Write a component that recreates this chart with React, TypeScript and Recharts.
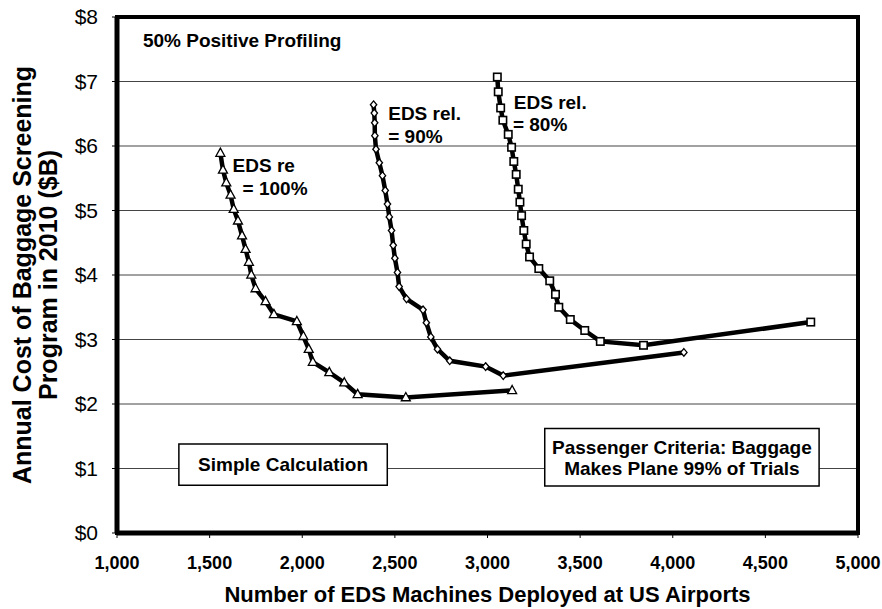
import React from 'react';
import { LineChart, Line, XAxis, YAxis, CartesianGrid, ReferenceArea, ReferenceDot } from 'recharts';

const FONT = '"Liberation Sans", Arial, Helvetica, sans-serif';

const xTicks = [1000, 1500, 2000, 2500, 3000, 3500, 4000, 4500, 5000];
const yTicks = [0, 1, 2, 3, 4, 5, 6, 7, 8];

const eds100X = [1558, 1572, 1590, 1613, 1630, 1653, 1675, 1694, 1712, 1725, 1748, 1802, 1847, 1971, 2006, 2035, 2057, 2146, 2227, 2299, 2559, 3133];
const eds100Y = [5.89, 5.63, 5.43, 5.24, 5.02, 4.84, 4.61, 4.40, 4.20, 4.00, 3.79, 3.59, 3.39, 3.28, 3.05, 2.85, 2.65, 2.49, 2.33, 2.15, 2.10, 2.21];

const eds90X = [2385, 2389, 2391, 2392, 2398, 2416, 2433, 2448, 2460, 2470, 2482, 2491, 2500, 2514, 2523, 2563, 2652, 2670, 2694, 2730, 2796, 2990, 3085, 4060];
const eds90Y = [6.64, 6.51, 6.36, 6.16, 5.95, 5.74, 5.54, 5.31, 5.10, 4.90, 4.69, 4.46, 4.26, 4.04, 3.82, 3.63, 3.46, 3.26, 3.04, 2.85, 2.67, 2.58, 2.44, 2.80];

const eds80X = [3053, 3058, 3071, 3083, 3112, 3130, 3142, 3155, 3166, 3175, 3184, 3196, 3209, 3227, 3277, 3336, 3367, 3385, 3447, 3525, 3609, 3842, 4745];
const eds80Y = [7.07, 6.84, 6.59, 6.40, 6.18, 5.98, 5.76, 5.56, 5.33, 5.13, 4.92, 4.69, 4.48, 4.28, 4.10, 3.91, 3.70, 3.50, 3.31, 3.14, 2.97, 2.91, 3.27];

const toPoints = (xs: number[], ys: number[]) => xs.map((x, i) => ({ x, y: ys[i] }));
const eds100 = toPoints(eds100X, eds100Y);
const eds90 = toPoints(eds90X, eds90Y);
const eds80 = toPoints(eds80X, eds80Y);

const triangleDot = (p: any) => {
  const { cx, cy, index } = p;
  if (cx == null || cy == null) return <g key={`t${index}`} />;
  return (
    <path key={`t${index}`} d={`M${cx},${cy - 5} L${cx + 4.5},${cy + 3.2} L${cx - 4.5},${cy + 3.2} Z`} fill="#fff" stroke="#000" strokeWidth={1.3} />
  );
};
const diamondDot = (p: any) => {
  const { cx, cy, index } = p;
  if (cx == null || cy == null) return <g key={`d${index}`} />;
  return (
    <path key={`d${index}`} d={`M${cx},${cy - 3.8} L${cx + 3.2},${cy} L${cx},${cy + 3.8} L${cx - 3.2},${cy} Z`} fill="#fff" stroke="#000" strokeWidth={1.3} />
  );
};
const squareDot = (p: any) => {
  const { cx, cy, index } = p;
  if (cx == null || cy == null) return <g key={`s${index}`} />;
  return <rect key={`s${index}`} x={cx - 3.7} y={cy - 3.7} width={7.4} height={7.4} fill="#fff" stroke="#000" strokeWidth={1.6} />;
};

const freeText = (text: string, size = 19) => (props: any) => {
  const vb = props.viewBox || {};
  return (
    <text x={vb.x} y={vb.y} fontSize={size} fontWeight="bold" fontFamily={FONT} fill="#000" textAnchor="start">
      {text}
    </text>
  );
};

const boxText = (lines: string[], size = 19, lineH = 21) => (props: any) => {
  const vb = props.viewBox || {};
  const cx = vb.x + vb.width / 2;
  const cy = vb.y + vb.height / 2;
  const start = cy - ((lines.length - 1) * lineH) / 2 + size * 0.36;
  return (
    <g>
      {lines.map((l, i) => (
        <text key={i} x={cx} y={start + i * lineH} fontSize={size} fontWeight="bold" fontFamily={FONT} fill="#000" textAnchor="middle">
          {l}
        </text>
      ))}
    </g>
  );
};

const yTitle = (props: any) => {
  const vb = props.viewBox || {};
  const cy = vb.y + vb.height / 2;
  const x1 = 31;
  const x2 = 57;
  return (
    <g>
      <text x={x1} y={cy} transform={`rotate(-90, ${x1}, ${cy})`} textAnchor="middle" fontSize={25} fontWeight="bold" fontFamily={FONT} fill="#000">
        Annual Cost of Baggage Screening
      </text>
      <text x={x2} y={cy} transform={`rotate(-90, ${x2}, ${cy})`} textAnchor="middle" fontSize={25} fontWeight="bold" fontFamily={FONT} fill="#000">
        Program in 2010 ($B)
      </text>
    </g>
  );
};

const xTitle = (props: any) => {
  const vb = props.viewBox || {};
  const cx = vb.x + vb.width / 2;
  return (
    <text x={cx} y={602} textAnchor="middle" fontSize={22} fontWeight="bold" fontFamily={FONT} fill="#000">
      Number of EDS Machines Deployed at US Airports
    </text>
  );
};

export default function App() {
  return (
    <div style={{ position: 'absolute', left: 0, top: 0, width: 882, height: 609, background: '#fff' }}>
      <LineChart width={882} height={609} margin={{ top: 17, right: 24, left: 0, bottom: 0 }}>
        <CartesianGrid vertical={false} stroke="#444" strokeWidth={1} />
        <XAxis
          type="number"
          dataKey="x"
          domain={[1000, 5000]}
          ticks={xTicks}
          allowDataOverflow
          height={76}
          tickSize={5}
          tickMargin={18}
          tickFormatter={(v: number) => v.toLocaleString('en-US')}
          tick={{ fontSize: 18, fontWeight: 'bold', fontFamily: FONT, fill: '#000' }}
          axisLine={{ stroke: '#000', strokeWidth: 5 }}
          tickLine={{ stroke: '#000', strokeWidth: 1 }}
          label={xTitle}
        />
        <YAxis
          type="number"
          dataKey="y"
          domain={[0, 8]}
          ticks={yTicks}
          allowDataOverflow
          width={117}
          tickSize={5}
          tickMargin={14}
          tickFormatter={(v: number) => `$${v}`}
          tick={{ fontSize: 21, fontFamily: FONT, fill: '#000' }}
          axisLine={{ stroke: '#000', strokeWidth: 5 }}
          tickLine={{ stroke: '#000', strokeWidth: 1 }}
          label={yTitle}
        />
        <ReferenceArea x1={1334} x2={2459} y1={0.74} y2={1.38} fill="#fff" fillOpacity={1} stroke="#000" strokeWidth={1.5} label={boxText(['Simple Calculation'])} />
        <ReferenceArea x1={3309} x2={4790} y1={0.73} y2={1.62} fill="#fff" fillOpacity={1} stroke="#000" strokeWidth={1.5} label={boxText(['Passenger Criteria: Baggage', 'Makes Plane 99% of Trials'])} />
        <Line data={eds100} dataKey="y" type="linear" stroke="#000" strokeWidth={4.5} dot={triangleDot} isAnimationActive={false} />
        <Line data={eds90} dataKey="y" type="linear" stroke="#000" strokeWidth={4.5} dot={diamondDot} isAnimationActive={false} />
        <Line data={eds80} dataKey="y" type="linear" stroke="#000" strokeWidth={4.5} dot={squareDot} isAnimationActive={false} />
        <ReferenceDot x={1140} y={7.53} r={0} fill="none" stroke="none" label={freeText('50% Positive Profiling')} />
        <ReferenceDot x={1624} y={5.6} r={0} fill="none" stroke="none" label={freeText('EDS re')} />
        <ReferenceDot x={1678} y={5.24} r={0} fill="none" stroke="none" label={freeText('= 100%')} />
        <ReferenceDot x={2464} y={6.4} r={0} fill="none" stroke="none" label={freeText('EDS rel.')} />
        <ReferenceDot x={2464} y={6.05} r={0} fill="none" stroke="none" label={freeText('= 90%')} />
        <ReferenceDot x={3142} y={6.57} r={0} fill="none" stroke="none" label={freeText('EDS rel.')} />
        <ReferenceDot x={3137} y={6.24} r={0} fill="none" stroke="none" label={freeText('= 80%')} />
        <ReferenceArea x1={1000} x2={5000} y1={0} y2={8} fill="none" stroke="#000" strokeWidth={4} ifOverflow="visible" />
      </LineChart>
    </div>
  );
}
